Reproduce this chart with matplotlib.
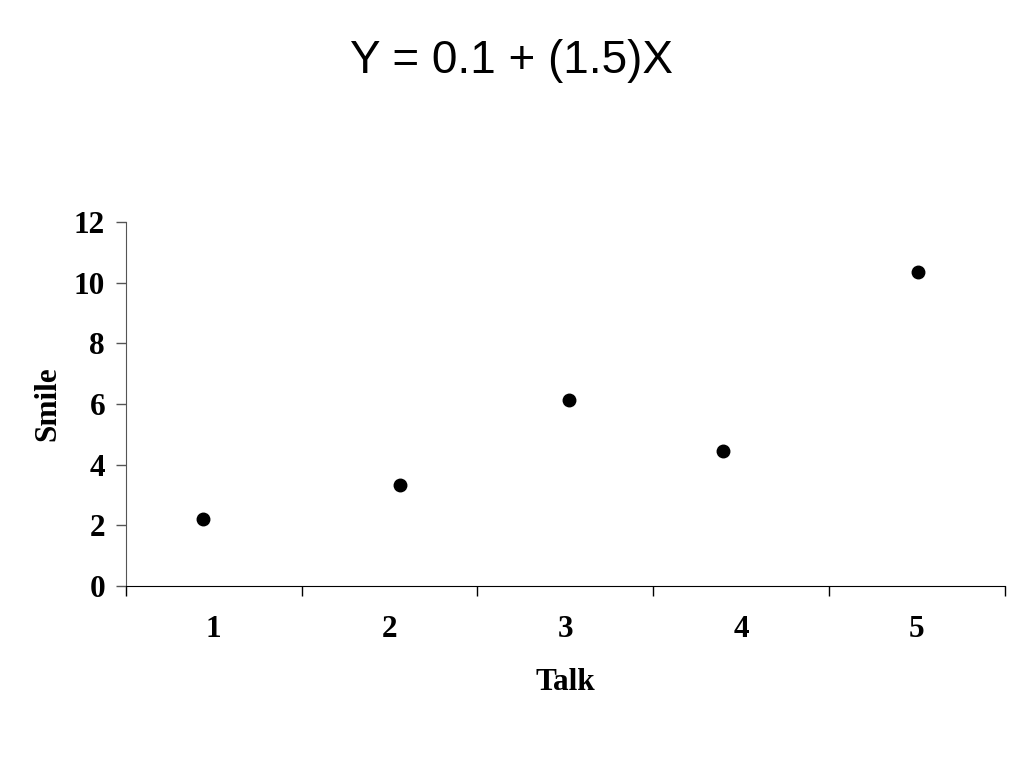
import matplotlib
matplotlib.use('Agg')
import matplotlib.pyplot as plt

# data
talk = [0.94, 2.06, 3.02, 3.90, 5.01]
smile = [2.2, 3.33, 6.13, 4.45, 10.35]
categories = ['1', '2', '3', '4', '5']
yticks = [0, 2, 4, 6, 8, 10, 12]

serif = 'Liberation Serif'
fs = 22.5

fig = plt.figure(figsize=(10.24, 7.68), dpi=100)
ax = fig.add_axes([0.123, 0.237, 0.858, 0.474])

ax.plot(talk, smile, 'o', color='black', markersize=9, linestyle='none')

ax.set_xlim(0.5, 5.5)
ax.set_ylim(0, 12)

# ticks between categories, labels centred in each band
ax.set_xticks([0.5, 1.5, 2.5, 3.5, 4.5, 5.5])
ax.set_xticklabels([])
ax.set_xticks([1, 2, 3, 4, 5], minor=True)
ax.set_xticklabels(categories, minor=True, fontfamily=serif,
                   fontweight='bold', fontsize=fs)
ax.tick_params(axis='x', which='minor', length=0, pad=21)
ax.tick_params(axis='x', which='major', direction='out', length=7, width=1)

ax.set_yticks(yticks)
ax.set_yticklabels([str(v) for v in yticks], fontfamily=serif,
                   fontweight='bold', fontsize=fs)
ax.tick_params(axis='y', direction='out', length=7, width=1, color='#555555', pad=8)

for s in ['top', 'right']:
    ax.spines[s].set_visible(False)
ax.spines['left'].set_color('#555555')
ax.spines['bottom'].set_color('black')

ax.set_xlabel('Talk', fontfamily=serif, fontweight='bold', fontsize=fs, labelpad=17)
ax.set_ylabel('Smile', fontfamily=serif, fontweight='bold', fontsize=fs, labelpad=8)

fig.text(0.5, 0.92, 'Y = 0.1 + (1.5)X', ha='center', va='center',
         fontfamily='Liberation Sans', fontsize=33)

fig.savefig('out.png', dpi=100)
